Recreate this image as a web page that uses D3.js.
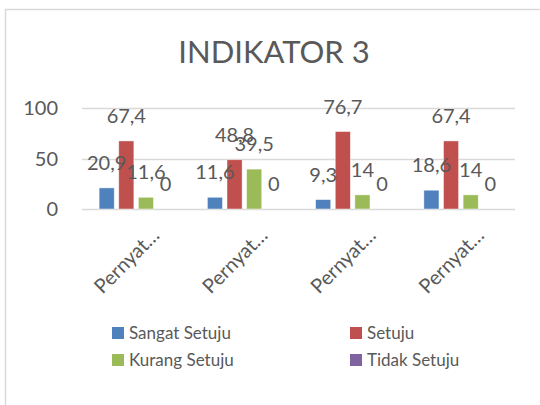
<!DOCTYPE html>
<html>
<head>
<meta charset="utf-8">
<script src="https://cdn.jsdelivr.net/npm/d3@7"></script>
<style>
  body { margin: 0; background: #fff; }
  text { font-family: Lato, "Open Sans", sans-serif; fill: #595959; }
</style>
</head>
<body>
<svg id="chart" width="540" height="405"></svg>
<script>
var categories = ['Pernyat…', 'Pernyat…', 'Pernyat…', 'Pernyat…'];
var seriesNames = ['Sangat Setuju', 'Setuju', 'Kurang Setuju', 'Tidak Setuju'];
var seriesColors = ['#4f81bd', '#c0504d', '#9bbb59', '#8064a2'];
var sangatSetuju = [20.9, 11.6, 9.3, 18.6];
var setuju = [67.4, 48.8, 76.7, 67.4];
var kurangSetuju = [11.6, 39.5, 14, 14];
var tidakSetuju = [0, 0, 0, 0];
var yTicks = [0, 50, 100];
var title = 'INDIKATOR 3';

var series = [sangatSetuju, setuju, kurangSetuju, tidakSetuju];
var svg = d3.select('#chart');
var plotLeft = 82, plotRight = 515, plotTop = 108, plotBottom = 209;

svg.append('rect').attr('x', 5.5).attr('y', 9.5).attr('width', 600).attr('height', 500)
  .attr('fill', 'none').attr('stroke', '#d9d9d9').attr('stroke-width', 1.5);

svg.append('text').attr('x', 274).attr('y', 63).attr('text-anchor', 'middle')
  .attr('font-size', 31).text(title);

var x = d3.scaleBand().domain(d3.range(categories.length)).range([plotLeft, plotRight]);
var xs = d3.scaleBand().domain(d3.range(series.length)).range([0, 74]).paddingInner(0.23);
var y = d3.scaleLinear().domain([0, 100]).range([plotBottom, plotTop]);

// gridlines
svg.append('g').selectAll('line').data(yTicks).enter().append('line')
  .attr('x1', plotLeft).attr('x2', plotRight)
  .attr('y1', function(d){ return Math.round(y(d)) + 0.5; })
  .attr('y2', function(d){ return Math.round(y(d)) + 0.5; })
  .attr('stroke', '#d9d9d9').attr('stroke-width', 1.5);

svg.append('g').selectAll('text').data(yTicks).enter().append('text')
  .attr('x', 58).attr('y', function(d){ return y(d); })
  .attr('dy', '0.35em').attr('text-anchor', 'end').attr('font-size', 20)
  .text(function(d){ return d; });

var groups = svg.append('g').selectAll('g.grp').data(categories).enter().append('g')
  .attr('class', 'grp')
  .attr('transform', function(d, i){ return 'translate(' + (x(i) + (x.bandwidth() - 74) / 2) + ',0)'; });

groups.each(function(c, gi){
  var g = d3.select(this);
  series.forEach(function(s, si){
    var v = s[gi];
    if (v > 0) {
      g.append('rect').attr('x', xs(si)).attr('width', xs.bandwidth())
        .attr('y', y(v)).attr('height', y(0) - y(v))
        .attr('fill', seriesColors[si]).attr('stroke', '#fff').attr('stroke-opacity', 0.6).attr('stroke-width', 0.75);
    }
  });
  series.forEach(function(s, si){
    var v = s[gi];
    g.append('text').attr('x', xs(si) + xs.bandwidth() / 2).attr('y', y(v) - 18)
      .attr('text-anchor', 'middle').attr('font-size', 20)
      .text(String(v).replace('.', ','));
  });
});

// category labels
svg.append('g').selectAll('text').data(categories).enter().append('text')
  .attr('transform', function(d, i){
    var cx = x(i) + x.bandwidth() / 2 + 14;
    return 'translate(' + cx + ',226) rotate(-45)';
  })
  .attr('text-anchor', 'end').attr('font-size', 20).attr('dy', '0.75em')
  .text(function(d){ return d; });

// legend
var legendPos = [[112, 333], [350, 333], [112, 360], [350, 360]];
var lg = svg.append('g').selectAll('g').data(seriesNames).enter().append('g')
  .attr('transform', function(d, i){ return 'translate(' + legendPos[i][0] + ',' + legendPos[i][1] + ')'; });
lg.append('rect').attr('x', 0).attr('y', -6).attr('width', 12).attr('height', 12)
  .attr('fill', function(d, i){ return seriesColors[i]; });
lg.append('text').attr('x', 17).attr('dy', '0.35em').attr('font-size', 17)
  .text(function(d){ return d; });
</script>
</body>
</html>
